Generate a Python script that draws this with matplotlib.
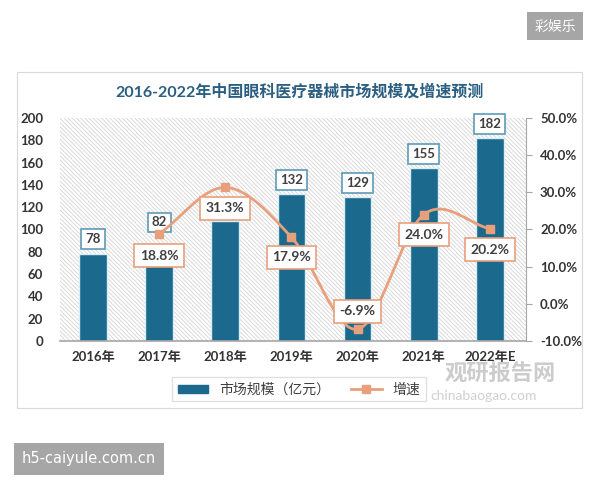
import numpy as np
import matplotlib
matplotlib.use("Agg")
import matplotlib.pyplot as plt
from matplotlib.patches import Rectangle
from matplotlib.lines import Line2D
from matplotlib.patches import Patch

plt.rcParams['font.family'] = ['Lato', 'Noto Sans CJK SC', 'DejaVu Sans']
plt.rcParams['hatch.linewidth'] = 0.6

years = ['2016年', '2017年', '2018年', '2019年', '2020年', '2021年', '2022年E']
market = [78, 82, 108, 132, 129, 155, 182]
growth = [None, 18.8, 31.3, 17.9, -6.9, 24.0, 20.2]
show_bar_label = [True, True, False, True, True, True, True]
bar_label_dy = [15, 27, 14, 14, 14, 14, 14]          # pixels above bar top
growth_label_dy = [0, -22, -21, -20, 18, -20, -21]   # pixels, below(-)/above(+)

bar_c = '#1B6A8E'
line_c = '#E8A07C'
edge_bar_lbl = '#5E9BB5'
PX = 0.72  # points per pixel at dpi 100


def catmull_rom(xs, ys, n=30):
    # smooth curve through points, like Excel's smoothed line
    pts = np.column_stack([xs, ys]).astype(float)
    p = np.vstack([2 * pts[0] - pts[1], pts, 2 * pts[-1] - pts[-2]])
    out = []
    for i in range(1, len(p) - 2):
        p0, p1, p2, p3 = p[i - 1], p[i], p[i + 1], p[i + 2]
        t = np.linspace(0, 1, n)[:, None]
        seg = 0.5 * ((2 * p1) + (-p0 + p2) * t + (2 * p0 - 5 * p1 + 4 * p2 - p3) * t ** 2
                     + (-p0 + 3 * p1 - 3 * p2 + p3) * t ** 3)
        out.append(seg)
    out = np.vstack(out)
    return out[:, 0], out[:, 1]


fig = plt.figure(figsize=(6, 4.8), dpi=100)
fig.patch.set_facecolor('white')

# outer chart frame
fig.add_artist(Rectangle((17 / 600, 1 - 408 / 480), 565 / 600, 336 / 480,
                         transform=fig.transFigure, fill=False, edgecolor='#D9D9D9', lw=0.8))

ax = fig.add_axes([0.1, 0.29, 0.777, 0.464])
ax2 = ax.twinx()
ax.set_zorder(ax2.get_zorder() - 1)
ax.patch.set_visible(False)
ax2.patch.set_visible(False)

x = np.arange(len(years))
ax.set_xlim(-0.5, len(years) - 0.45)
ax.set_ylim(0, 200)
ax2.set_ylim(-10, 50)

# hatched plot background
ax.add_patch(Rectangle((0, 0), 1, 1, transform=ax.transAxes, facecolor='white',
                       hatch='\\' * 8, edgecolor='#D3D3D3', lw=0, zorder=0))

bars = ax.bar(x, market, width=0.42, color=bar_c, edgecolor='#D8EEF5', linewidth=1.0, zorder=2)
for xi, v, show, dy in zip(x, market, show_bar_label, bar_label_dy):
    if show:
        ax.annotate(str(v), (xi, v), xytext=(0, dy * PX), textcoords='offset points',
                    ha='center', va='center', fontsize=9.5, fontweight='bold', color='#404040',
                    bbox=dict(boxstyle='square,pad=0.3', fc='white', ec=edge_bar_lbl, lw=1.2),
                    zorder=3)

gx = [xi for xi, g in zip(x, growth) if g is not None]
gy = [g for g in growth if g is not None]
sx, sy = catmull_rom(gx, gy)
ax2.plot(sx, sy, color=line_c, lw=2.0, zorder=4)
ax2.plot(gx, gy, 's', color=line_c, ms=6, zorder=5)
for xi, g, dy in zip(x, growth, growth_label_dy):
    if g is None:
        continue
    ax2.annotate(f'{g:.1f}%', (xi, g), xytext=(0, dy * PX), textcoords='offset points',
                 ha='center', va='center', fontsize=10, fontweight='bold', color='#404040',
                 bbox=dict(boxstyle='square,pad=0.4', fc='white', ec=line_c, lw=1.2),
                 zorder=6)

ax.set_xticks(x)
ax.set_xticklabels(years, fontsize=9.5, fontweight='bold', color='#333333')
ax.set_yticks(np.arange(0, 201, 20))
ax.tick_params(axis='y', length=0, labelsize=9.5, pad=12, labelcolor='#333333')
ax.tick_params(axis='x', length=0, pad=7)
for lab in ax.get_yticklabels():
    lab.set_fontweight('bold')

ax2.set_yticks(np.arange(-10, 51, 10))
ax2.set_yticklabels([f'{v:.1f}%' for v in np.arange(-10, 51, 10)])
ax2.tick_params(axis='y', length=4, color='#A6A6A6', labelsize=9.5, labelcolor='#333333', pad=6)
for lab in ax2.get_yticklabels():
    lab.set_fontweight('bold')

for a in (ax, ax2):
    for s in ('top', 'left'):
        a.spines[s].set_visible(False)
ax.spines['right'].set_visible(False)
ax2.spines['right'].set_color('#A6A6A6')
ax2.spines['bottom'].set_visible(False)
ax.spines['bottom'].set_color('#A6A6A6')
ax.spines['bottom'].set_linewidth(1.2)

fig.text(0.5, 1 - 92 / 480, '2016-2022年中国眼科医疗器械市场规模及增速预测',
         ha='center', va='center', fontsize=11.5, fontweight='bold', color='#2B5F82')

handles = [Patch(facecolor=bar_c, edgecolor=bar_c),
           Line2D([0], [0], color=line_c, lw=2, marker='s', ms=6)]
leg = fig.legend(handles, ['市场规模（亿元）', '增速'], loc='center',
                 bbox_to_anchor=(299 / 600, 1 - 389 / 480), ncol=2, frameon=True,
                 fontsize=10, handlelength=2.2, handleheight=0.5, columnspacing=1.5,
                 fancybox=False, edgecolor='#D9D9D9')
for t in leg.get_texts():
    t.set_color('#404040')

# watermark
fig.text(445 / 600, 1 - 374 / 480, '观研报告网', fontsize=16, fontweight='bold', color='#CCCCCC',
         ha='left', va='center')
fig.text(430 / 600, 1 - 396 / 480, 'chinabaogao.com', fontsize=10, color='#D0D0D0',
         ha='left', va='center')

# page overlays
fig.text(555 / 600, 1 - 26 / 480, '彩娱乐', fontsize=10, color='white', ha='center', va='center',
         bbox=dict(boxstyle='square,pad=0.55', fc='#A6A6A6', ec='none'))
fig.text(89 / 600, 1 - 459 / 480, 'h5-caiyule.com.cn', fontsize=10.5, color='white',
         ha='center', va='center', family=['DejaVu Sans'],
         bbox=dict(boxstyle='square,pad=0.55', fc='#A6A6A6', ec='none'))

fig.savefig('out.png', dpi=100, facecolor='white')
